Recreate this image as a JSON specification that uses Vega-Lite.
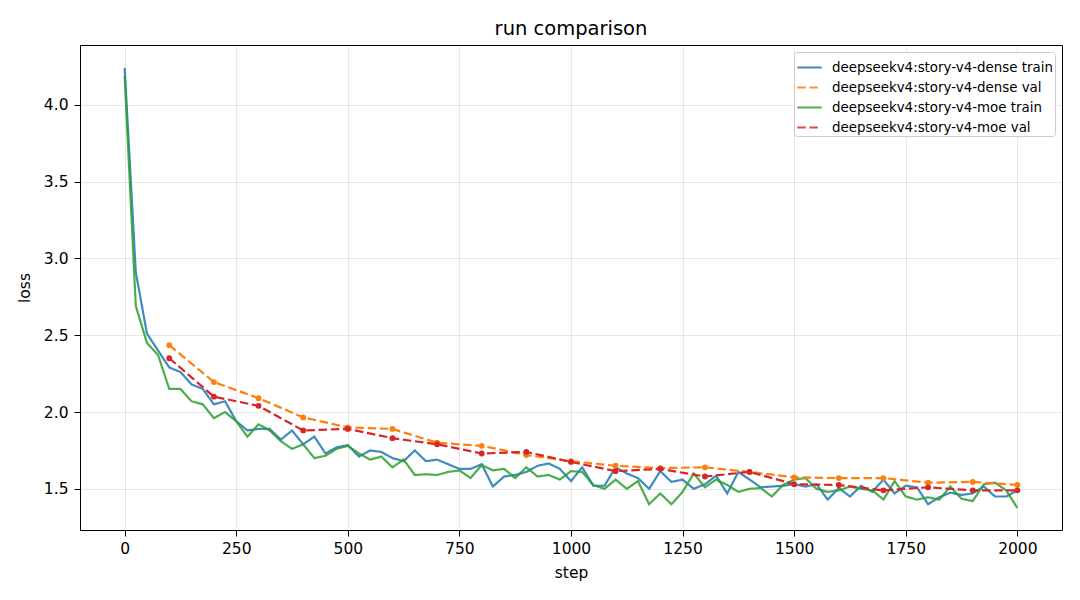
{
"$schema": "https://vega.github.io/schema/vega-lite/v6.json",
"width": 982, "height": 485,
"autosize": "none",
"padding": {"left": 80, "top": 45, "right": 18, "bottom": 70},
"background": "white",
"title": {"text": "run comparison", "fontSize": 19.5, "fontWeight": "normal", "font": "DejaVu Sans", "color": "black", "offset": 6, "anchor": "middle"},
"config": {
 "font": "DejaVu Sans",
 "view": {"stroke": "black", "strokeWidth": 1},
 "axis": {"domain": false, "grid": true, "gridColor": "#b0b0b0", "gridOpacity": 0.3, "gridWidth": 1, "tickColor": "black", "tickSize": 6, "tickWidth": 1, "labelColor": "black", "labelFontSize": 15.5, "labelFont": "DejaVu Sans", "titleFont": "DejaVu Sans", "titleFontSize": 15.5, "titleFontWeight": "normal", "titleColor": "black"},
 "legend": {"orient": "top-right", "offset": 7, "fillColor": "white", "strokeColor": "#cccccc", "cornerRadius": 3, "padding": 2, "labelFontSize": 13.4, "labelFont": "DejaVu Sans", "labelColor": "black", "symbolType": "stroke", "symbolSize": 600, "symbolStrokeWidth": 2, "rowPadding": -5, "labelOffset": 9, "labelLimit": 400}
},
"datasets": {
"train": [
{"series":"deepseekv4:story-v4-dense train","step":0,"loss":4.24},
{"series":"deepseekv4:story-v4-dense train","step":25,"loss":2.91},
{"series":"deepseekv4:story-v4-dense train","step":50,"loss":2.51},
{"series":"deepseekv4:story-v4-dense train","step":75,"loss":2.40},
{"series":"deepseekv4:story-v4-dense train","step":100,"loss":2.29},
{"series":"deepseekv4:story-v4-dense train","step":125,"loss":2.26},
{"series":"deepseekv4:story-v4-dense train","step":150,"loss":2.18},
{"series":"deepseekv4:story-v4-dense train","step":175,"loss":2.15},
{"series":"deepseekv4:story-v4-dense train","step":200,"loss":2.05},
{"series":"deepseekv4:story-v4-dense train","step":225,"loss":2.07},
{"series":"deepseekv4:story-v4-dense train","step":250,"loss":1.94},
{"series":"deepseekv4:story-v4-dense train","step":275,"loss":1.88},
{"series":"deepseekv4:story-v4-dense train","step":300,"loss":1.89},
{"series":"deepseekv4:story-v4-dense train","step":325,"loss":1.89},
{"series":"deepseekv4:story-v4-dense train","step":350,"loss":1.82},
{"series":"deepseekv4:story-v4-dense train","step":375,"loss":1.88},
{"series":"deepseekv4:story-v4-dense train","step":400,"loss":1.79},
{"series":"deepseekv4:story-v4-dense train","step":425,"loss":1.84},
{"series":"deepseekv4:story-v4-dense train","step":450,"loss":1.73},
{"series":"deepseekv4:story-v4-dense train","step":475,"loss":1.77},
{"series":"deepseekv4:story-v4-dense train","step":500,"loss":1.785},
{"series":"deepseekv4:story-v4-dense train","step":525,"loss":1.71},
{"series":"deepseekv4:story-v4-dense train","step":550,"loss":1.75},
{"series":"deepseekv4:story-v4-dense train","step":575,"loss":1.74},
{"series":"deepseekv4:story-v4-dense train","step":600,"loss":1.70},
{"series":"deepseekv4:story-v4-dense train","step":625,"loss":1.68},
{"series":"deepseekv4:story-v4-dense train","step":650,"loss":1.75},
{"series":"deepseekv4:story-v4-dense train","step":675,"loss":1.68},
{"series":"deepseekv4:story-v4-dense train","step":700,"loss":1.69},
{"series":"deepseekv4:story-v4-dense train","step":725,"loss":1.66},
{"series":"deepseekv4:story-v4-dense train","step":750,"loss":1.63},
{"series":"deepseekv4:story-v4-dense train","step":775,"loss":1.63},
{"series":"deepseekv4:story-v4-dense train","step":800,"loss":1.66},
{"series":"deepseekv4:story-v4-dense train","step":825,"loss":1.515},
{"series":"deepseekv4:story-v4-dense train","step":850,"loss":1.58},
{"series":"deepseekv4:story-v4-dense train","step":875,"loss":1.59},
{"series":"deepseekv4:story-v4-dense train","step":900,"loss":1.61},
{"series":"deepseekv4:story-v4-dense train","step":925,"loss":1.65},
{"series":"deepseekv4:story-v4-dense train","step":950,"loss":1.665},
{"series":"deepseekv4:story-v4-dense train","step":975,"loss":1.63},
{"series":"deepseekv4:story-v4-dense train","step":1000,"loss":1.55},
{"series":"deepseekv4:story-v4-dense train","step":1025,"loss":1.64},
{"series":"deepseekv4:story-v4-dense train","step":1050,"loss":1.52},
{"series":"deepseekv4:story-v4-dense train","step":1075,"loss":1.52},
{"series":"deepseekv4:story-v4-dense train","step":1100,"loss":1.64},
{"series":"deepseekv4:story-v4-dense train","step":1125,"loss":1.60},
{"series":"deepseekv4:story-v4-dense train","step":1150,"loss":1.57},
{"series":"deepseekv4:story-v4-dense train","step":1175,"loss":1.50},
{"series":"deepseekv4:story-v4-dense train","step":1200,"loss":1.615},
{"series":"deepseekv4:story-v4-dense train","step":1225,"loss":1.545},
{"series":"deepseekv4:story-v4-dense train","step":1250,"loss":1.56},
{"series":"deepseekv4:story-v4-dense train","step":1275,"loss":1.50},
{"series":"deepseekv4:story-v4-dense train","step":1300,"loss":1.53},
{"series":"deepseekv4:story-v4-dense train","step":1325,"loss":1.585},
{"series":"deepseekv4:story-v4-dense train","step":1350,"loss":1.47},
{"series":"deepseekv4:story-v4-dense train","step":1375,"loss":1.61},
{"series":"deepseekv4:story-v4-dense train","step":1400,"loss":1.56},
{"series":"deepseekv4:story-v4-dense train","step":1425,"loss":1.51},
{"series":"deepseekv4:story-v4-dense train","step":1450,"loss":1.515},
{"series":"deepseekv4:story-v4-dense train","step":1475,"loss":1.52},
{"series":"deepseekv4:story-v4-dense train","step":1500,"loss":1.53},
{"series":"deepseekv4:story-v4-dense train","step":1525,"loss":1.515},
{"series":"deepseekv4:story-v4-dense train","step":1550,"loss":1.53},
{"series":"deepseekv4:story-v4-dense train","step":1575,"loss":1.43},
{"series":"deepseekv4:story-v4-dense train","step":1600,"loss":1.505},
{"series":"deepseekv4:story-v4-dense train","step":1625,"loss":1.45},
{"series":"deepseekv4:story-v4-dense train","step":1650,"loss":1.52},
{"series":"deepseekv4:story-v4-dense train","step":1675,"loss":1.48},
{"series":"deepseekv4:story-v4-dense train","step":1700,"loss":1.56},
{"series":"deepseekv4:story-v4-dense train","step":1725,"loss":1.47},
{"series":"deepseekv4:story-v4-dense train","step":1750,"loss":1.52},
{"series":"deepseekv4:story-v4-dense train","step":1775,"loss":1.51},
{"series":"deepseekv4:story-v4-dense train","step":1800,"loss":1.40},
{"series":"deepseekv4:story-v4-dense train","step":1825,"loss":1.445},
{"series":"deepseekv4:story-v4-dense train","step":1850,"loss":1.475},
{"series":"deepseekv4:story-v4-dense train","step":1875,"loss":1.46},
{"series":"deepseekv4:story-v4-dense train","step":1900,"loss":1.47},
{"series":"deepseekv4:story-v4-dense train","step":1925,"loss":1.515},
{"series":"deepseekv4:story-v4-dense train","step":1950,"loss":1.45},
{"series":"deepseekv4:story-v4-dense train","step":1975,"loss":1.45},
{"series":"deepseekv4:story-v4-dense train","step":2000,"loss":1.49},
{"series":"deepseekv4:story-v4-moe train","step":0,"loss":4.19},
{"series":"deepseekv4:story-v4-moe train","step":25,"loss":2.69},
{"series":"deepseekv4:story-v4-moe train","step":50,"loss":2.45},
{"series":"deepseekv4:story-v4-moe train","step":75,"loss":2.37},
{"series":"deepseekv4:story-v4-moe train","step":100,"loss":2.15},
{"series":"deepseekv4:story-v4-moe train","step":125,"loss":2.15},
{"series":"deepseekv4:story-v4-moe train","step":150,"loss":2.07},
{"series":"deepseekv4:story-v4-moe train","step":175,"loss":2.05},
{"series":"deepseekv4:story-v4-moe train","step":200,"loss":1.96},
{"series":"deepseekv4:story-v4-moe train","step":225,"loss":2.00},
{"series":"deepseekv4:story-v4-moe train","step":250,"loss":1.94},
{"series":"deepseekv4:story-v4-moe train","step":275,"loss":1.84},
{"series":"deepseekv4:story-v4-moe train","step":300,"loss":1.92},
{"series":"deepseekv4:story-v4-moe train","step":325,"loss":1.88},
{"series":"deepseekv4:story-v4-moe train","step":350,"loss":1.81},
{"series":"deepseekv4:story-v4-moe train","step":375,"loss":1.76},
{"series":"deepseekv4:story-v4-moe train","step":400,"loss":1.79},
{"series":"deepseekv4:story-v4-moe train","step":425,"loss":1.70},
{"series":"deepseekv4:story-v4-moe train","step":450,"loss":1.715},
{"series":"deepseekv4:story-v4-moe train","step":475,"loss":1.76},
{"series":"deepseekv4:story-v4-moe train","step":500,"loss":1.78},
{"series":"deepseekv4:story-v4-moe train","step":525,"loss":1.73},
{"series":"deepseekv4:story-v4-moe train","step":550,"loss":1.69},
{"series":"deepseekv4:story-v4-moe train","step":575,"loss":1.71},
{"series":"deepseekv4:story-v4-moe train","step":600,"loss":1.64},
{"series":"deepseekv4:story-v4-moe train","step":625,"loss":1.69},
{"series":"deepseekv4:story-v4-moe train","step":650,"loss":1.59},
{"series":"deepseekv4:story-v4-moe train","step":675,"loss":1.595},
{"series":"deepseekv4:story-v4-moe train","step":700,"loss":1.59},
{"series":"deepseekv4:story-v4-moe train","step":725,"loss":1.61},
{"series":"deepseekv4:story-v4-moe train","step":750,"loss":1.62},
{"series":"deepseekv4:story-v4-moe train","step":775,"loss":1.57},
{"series":"deepseekv4:story-v4-moe train","step":800,"loss":1.655},
{"series":"deepseekv4:story-v4-moe train","step":825,"loss":1.62},
{"series":"deepseekv4:story-v4-moe train","step":850,"loss":1.63},
{"series":"deepseekv4:story-v4-moe train","step":875,"loss":1.57},
{"series":"deepseekv4:story-v4-moe train","step":900,"loss":1.64},
{"series":"deepseekv4:story-v4-moe train","step":925,"loss":1.58},
{"series":"deepseekv4:story-v4-moe train","step":950,"loss":1.59},
{"series":"deepseekv4:story-v4-moe train","step":975,"loss":1.56},
{"series":"deepseekv4:story-v4-moe train","step":1000,"loss":1.615},
{"series":"deepseekv4:story-v4-moe train","step":1025,"loss":1.61},
{"series":"deepseekv4:story-v4-moe train","step":1050,"loss":1.525},
{"series":"deepseekv4:story-v4-moe train","step":1075,"loss":1.50},
{"series":"deepseekv4:story-v4-moe train","step":1100,"loss":1.56},
{"series":"deepseekv4:story-v4-moe train","step":1125,"loss":1.50},
{"series":"deepseekv4:story-v4-moe train","step":1150,"loss":1.55},
{"series":"deepseekv4:story-v4-moe train","step":1175,"loss":1.40},
{"series":"deepseekv4:story-v4-moe train","step":1200,"loss":1.47},
{"series":"deepseekv4:story-v4-moe train","step":1225,"loss":1.40},
{"series":"deepseekv4:story-v4-moe train","step":1250,"loss":1.48},
{"series":"deepseekv4:story-v4-moe train","step":1275,"loss":1.60},
{"series":"deepseekv4:story-v4-moe train","step":1300,"loss":1.51},
{"series":"deepseekv4:story-v4-moe train","step":1325,"loss":1.56},
{"series":"deepseekv4:story-v4-moe train","step":1350,"loss":1.525},
{"series":"deepseekv4:story-v4-moe train","step":1375,"loss":1.48},
{"series":"deepseekv4:story-v4-moe train","step":1400,"loss":1.50},
{"series":"deepseekv4:story-v4-moe train","step":1425,"loss":1.505},
{"series":"deepseekv4:story-v4-moe train","step":1450,"loss":1.45},
{"series":"deepseekv4:story-v4-moe train","step":1475,"loss":1.525},
{"series":"deepseekv4:story-v4-moe train","step":1500,"loss":1.56},
{"series":"deepseekv4:story-v4-moe train","step":1525,"loss":1.57},
{"series":"deepseekv4:story-v4-moe train","step":1550,"loss":1.50},
{"series":"deepseekv4:story-v4-moe train","step":1575,"loss":1.48},
{"series":"deepseekv4:story-v4-moe train","step":1600,"loss":1.49},
{"series":"deepseekv4:story-v4-moe train","step":1625,"loss":1.515},
{"series":"deepseekv4:story-v4-moe train","step":1650,"loss":1.50},
{"series":"deepseekv4:story-v4-moe train","step":1675,"loss":1.49},
{"series":"deepseekv4:story-v4-moe train","step":1700,"loss":1.43},
{"series":"deepseekv4:story-v4-moe train","step":1725,"loss":1.55},
{"series":"deepseekv4:story-v4-moe train","step":1750,"loss":1.45},
{"series":"deepseekv4:story-v4-moe train","step":1775,"loss":1.43},
{"series":"deepseekv4:story-v4-moe train","step":1800,"loss":1.445},
{"series":"deepseekv4:story-v4-moe train","step":1825,"loss":1.43},
{"series":"deepseekv4:story-v4-moe train","step":1850,"loss":1.515},
{"series":"deepseekv4:story-v4-moe train","step":1875,"loss":1.435},
{"series":"deepseekv4:story-v4-moe train","step":1900,"loss":1.42},
{"series":"deepseekv4:story-v4-moe train","step":1925,"loss":1.53},
{"series":"deepseekv4:story-v4-moe train","step":1950,"loss":1.54},
{"series":"deepseekv4:story-v4-moe train","step":1975,"loss":1.49},
{"series":"deepseekv4:story-v4-moe train","step":2000,"loss":1.375}
],
"val": [
{"series":"deepseekv4:story-v4-dense val","step":100,"loss":2.435},
{"series":"deepseekv4:story-v4-dense val","step":200,"loss":2.195},
{"series":"deepseekv4:story-v4-dense val","step":300,"loss":2.09},
{"series":"deepseekv4:story-v4-dense val","step":400,"loss":1.965},
{"series":"deepseekv4:story-v4-dense val","step":500,"loss":1.90},
{"series":"deepseekv4:story-v4-dense val","step":600,"loss":1.89},
{"series":"deepseekv4:story-v4-dense val","step":700,"loss":1.80},
{"series":"deepseekv4:story-v4-dense val","step":800,"loss":1.78},
{"series":"deepseekv4:story-v4-dense val","step":900,"loss":1.72},
{"series":"deepseekv4:story-v4-dense val","step":1000,"loss":1.68},
{"series":"deepseekv4:story-v4-dense val","step":1100,"loss":1.65},
{"series":"deepseekv4:story-v4-dense val","step":1200,"loss":1.635},
{"series":"deepseekv4:story-v4-dense val","step":1300,"loss":1.64},
{"series":"deepseekv4:story-v4-dense val","step":1400,"loss":1.61},
{"series":"deepseekv4:story-v4-dense val","step":1500,"loss":1.575},
{"series":"deepseekv4:story-v4-dense val","step":1600,"loss":1.57},
{"series":"deepseekv4:story-v4-dense val","step":1700,"loss":1.57},
{"series":"deepseekv4:story-v4-dense val","step":1800,"loss":1.54},
{"series":"deepseekv4:story-v4-dense val","step":1900,"loss":1.545},
{"series":"deepseekv4:story-v4-dense val","step":2000,"loss":1.525},
{"series":"deepseekv4:story-v4-moe val","step":100,"loss":2.35},
{"series":"deepseekv4:story-v4-moe val","step":200,"loss":2.10},
{"series":"deepseekv4:story-v4-moe val","step":300,"loss":2.04},
{"series":"deepseekv4:story-v4-moe val","step":400,"loss":1.88},
{"series":"deepseekv4:story-v4-moe val","step":500,"loss":1.89},
{"series":"deepseekv4:story-v4-moe val","step":600,"loss":1.83},
{"series":"deepseekv4:story-v4-moe val","step":700,"loss":1.79},
{"series":"deepseekv4:story-v4-moe val","step":800,"loss":1.73},
{"series":"deepseekv4:story-v4-moe val","step":900,"loss":1.74},
{"series":"deepseekv4:story-v4-moe val","step":1000,"loss":1.675},
{"series":"deepseekv4:story-v4-moe val","step":1100,"loss":1.615},
{"series":"deepseekv4:story-v4-moe val","step":1200,"loss":1.63},
{"series":"deepseekv4:story-v4-moe val","step":1300,"loss":1.58},
{"series":"deepseekv4:story-v4-moe val","step":1400,"loss":1.61},
{"series":"deepseekv4:story-v4-moe val","step":1500,"loss":1.53},
{"series":"deepseekv4:story-v4-moe val","step":1600,"loss":1.525},
{"series":"deepseekv4:story-v4-moe val","step":1700,"loss":1.49},
{"series":"deepseekv4:story-v4-moe val","step":1800,"loss":1.51},
{"series":"deepseekv4:story-v4-moe val","step":1900,"loss":1.49},
{"series":"deepseekv4:story-v4-moe val","step":2000,"loss":1.49}
]
},
"encoding": {
 "x": {"field": "step", "type": "quantitative", "title": "step", "scale": {"domain": [-100, 2100], "nice": false, "zero": false}, "axis": {"values": [0, 250, 500, 750, 1000, 1250, 1500, 1750, 2000], "format": "d", "labelPadding": 5, "titlePadding": 9}},
 "y": {"field": "loss", "type": "quantitative", "title": "loss", "scale": {"domain": [1.232, 4.389], "nice": false, "zero": false}, "axis": {"values": [1.5, 2.0, 2.5, 3.0, 3.5, 4.0], "format": ".1f", "labelPadding": 6, "titlePadding": 11}},
 "color": {"field": "series", "type": "nominal", "title": null, "scale": {"domain": ["deepseekv4:story-v4-dense train", "deepseekv4:story-v4-dense val", "deepseekv4:story-v4-moe train", "deepseekv4:story-v4-moe val"], "range": ["#1f77b4", "#ff7f0e", "#2ca02c", "#d62728"]}},
 "strokeDash": {"field": "series", "type": "nominal", "title": null, "scale": {"domain": ["deepseekv4:story-v4-dense train", "deepseekv4:story-v4-dense val", "deepseekv4:story-v4-moe train", "deepseekv4:story-v4-moe val"], "range": [[1, 0], [8.5, 3.7], [1, 0], [8.5, 3.7]]}}
},
"layer": [
 {"data": {"name": "train"}, "mark": {"type": "line", "strokeWidth": 2.2, "opacity": 0.85, "clip": true}},
 {"data": {"name": "val"}, "mark": {"type": "line", "strokeWidth": 2.2, "clip": true, "point": {"filled": true, "size": 34, "opacity": 1}}}
]
}
